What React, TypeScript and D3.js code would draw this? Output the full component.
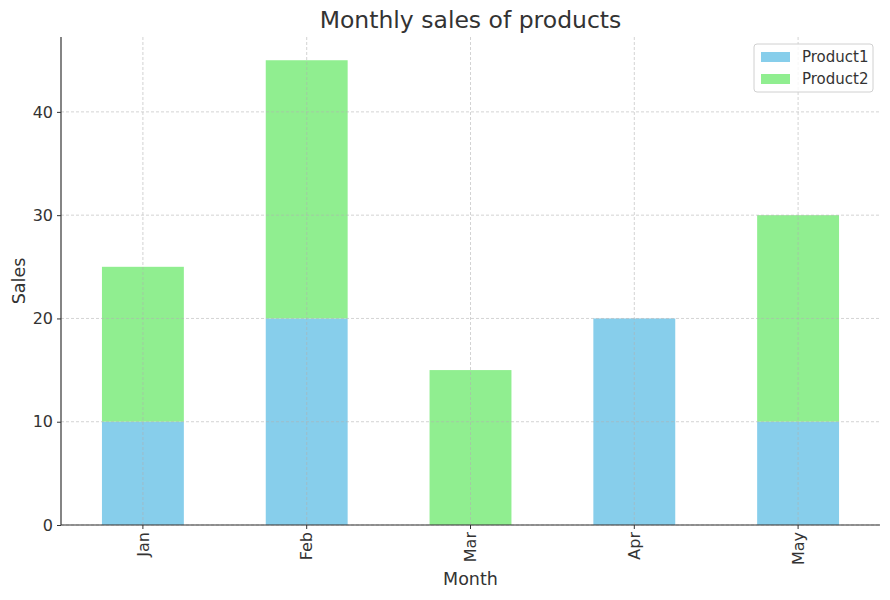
import { useEffect, useRef } from "react";
import * as d3 from "d3";

const months = ["Jan", "Feb", "Mar", "Apr", "May"];
const product1 = [10, 20, 0, 20, 10];
const product2 = [15, 25, 15, 0, 20];
const seriesNames = ["Product1", "Product2"];
const seriesColors = ["#87CEEB", "#90EE90"];
const yTicks = [0, 10, 20, 30, 40];

export default function App() {
  const ref = useRef<SVGSVGElement | null>(null);

  const width = 890;
  const height = 600;
  const margin = { top: 37, right: 10, bottom: 75, left: 61 };

  useEffect(() => {
    const svg = d3.select(ref.current);
    svg.selectAll("*").remove();
    const font = "DejaVu Sans, sans-serif";

    const innerW = width - margin.left - margin.right;
    const innerH = height - margin.top - margin.bottom;

    const data = months.map((m, i) => ({
      month: m,
      Product1: product1[i],
      Product2: product2[i],
    }));

    const stacked = d3.stack<any>().keys(seriesNames)(data);
    const maxTotal = d3.max(data, (d) => d.Product1 + d.Product2) as number;

    const x = d3
      .scaleBand()
      .domain(months)
      .range([0, innerW])
      .paddingInner(0.5)
      .paddingOuter(0.25);

    const y = d3
      .scaleLinear()
      .domain([0, maxTotal * 1.05])
      .range([innerH, 0]);

    const g = svg
      .append("g")
      .attr("transform", `translate(${margin.left},${margin.top})`);

    // bars
    g.selectAll(".series")
      .data(stacked)
      .enter()
      .append("g")
      .attr("fill", (_d, i) => seriesColors[i])
      .selectAll("rect")
      .data((d) => d)
      .enter()
      .append("rect")
      .attr("x", (d: any) => x(d.data.month) as number)
      .attr("width", x.bandwidth())
      .attr("y", (d) => y(d[1]))
      .attr("height", (d) => y(d[0]) - y(d[1]));

    // grid on top of bars
    const grid = g.append("g").attr("stroke", "#b0b0b0").attr("stroke-opacity", 0.7)
      .attr("stroke-dasharray", "3,2").attr("stroke-width", 0.8);
    grid
      .selectAll(".hg")
      .data(yTicks)
      .enter()
      .append("line")
      .attr("x1", 0)
      .attr("x2", innerW)
      .attr("y1", (d) => y(d))
      .attr("y2", (d) => y(d));
    grid
      .selectAll(".vg")
      .data(months)
      .enter()
      .append("line")
      .attr("x1", (d) => (x(d) as number) + x.bandwidth() / 2)
      .attr("x2", (d) => (x(d) as number) + x.bandwidth() / 2)
      .attr("y1", 0)
      .attr("y2", innerH);

    // axes
    const yAxis = g
      .append("g")
      .call(d3.axisLeft(y).tickValues(yTicks).tickSize(4).tickPadding(4));
    yAxis.select(".domain").remove();
    yAxis.attr("font-size", null).attr("font-family", null);
    yAxis.selectAll("text")
      .style("font-size", "16px").style("font-family", font).attr("fill", "#333");
    yAxis.selectAll("line").attr("stroke", "#333");

    const xAxis = g
      .append("g")
      .attr("transform", `translate(0,${innerH})`)
      .call(d3.axisBottom(x).tickSize(4).tickPadding(4));
    xAxis.select(".domain").remove();
    xAxis.attr("font-size", null).attr("font-family", null);
    xAxis
      .selectAll("text")
      .style("font-size", "16px")
      .style("font-family", font)
      .attr("fill", "#333")
      .attr("transform", "rotate(-90)")
      .attr("text-anchor", "end")
      .attr("x", -7)
      .attr("y", 0)
      .attr("dy", "0.35em");
    xAxis.selectAll("line").attr("stroke", "#333");

    // spines
    g.append("line")
      .attr("x1", 0).attr("x2", 0).attr("y1", 0).attr("y2", innerH)
      .attr("stroke", "#333").attr("stroke-width", 1.2);
    g.append("line")
      .attr("x1", 0).attr("x2", innerW).attr("y1", innerH).attr("y2", innerH)
      .attr("stroke", "#333").attr("stroke-width", 1.2);

    // titles
    svg.append("text")
      .attr("x", margin.left + innerW / 2)
      .attr("y", 28)
      .attr("text-anchor", "middle")
      .attr("font-family", font)
      .attr("font-size", 23.5)
      .attr("fill", "#333")
      .text("Monthly sales of products");

    svg.append("text")
      .attr("x", margin.left + innerW / 2)
      .attr("y", 585)
      .attr("text-anchor", "middle")
      .attr("font-family", font)
      .attr("font-size", 17.5)
      .attr("fill", "#333")
      .text("Month");

    svg.append("text")
      .attr("transform", `translate(25,${margin.top + innerH / 2}) rotate(-90)`)
      .attr("text-anchor", "middle")
      .attr("font-family", font)
      .attr("font-size", 17.5)
      .attr("fill", "#333")
      .text("Sales");

    // legend
    const legend = svg.append("g").attr("transform", "translate(754,44)");
    legend.append("rect")
      .attr("width", 119).attr("height", 48).attr("rx", 3)
      .attr("fill", "white").attr("fill-opacity", 0.8)
      .attr("stroke", "#d0d0d0");
    seriesNames.forEach((name, i) => {
      legend.append("rect")
        .attr("x", 7).attr("y", 8 + i * 22)
        .attr("width", 29).attr("height", 10)
        .attr("fill", seriesColors[i]);
      legend.append("text")
        .attr("x", 48).attr("y", 13 + i * 22)
        .attr("dy", "0.35em")
        .attr("font-family", font)
        .attr("font-size", 15)
        .attr("fill", "#333")
        .text(name);
    });
  }, []);

  return (
    <svg
      ref={ref}
      width={width}
      height={height}
      style={{ position: "absolute", left: 0, top: 0 }}
    />
  );
}
